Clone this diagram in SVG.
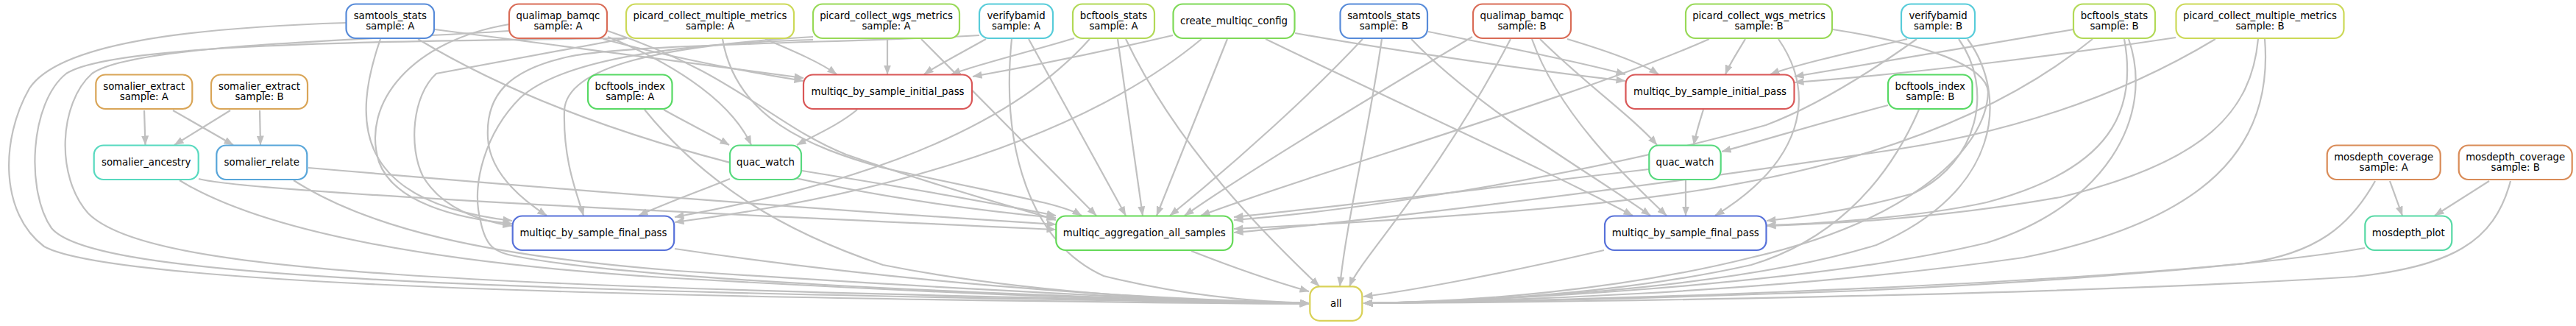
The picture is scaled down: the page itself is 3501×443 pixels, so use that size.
<svg xmlns="http://www.w3.org/2000/svg" width="3501" height="443" viewBox="0 0 3501 443">
<style>
.n rect{fill:#fff;stroke-width:2.2}
.n text{font-family:"DejaVu Sans",Verdana,sans-serif;font-size:13.3px;fill:#000;text-anchor:middle}
#edges path{fill:none;stroke:#c0c0c0;stroke-width:2.2;marker-end:url(#arr)}
</style>
<defs>
<marker id="arr" viewBox="0 0 13 10" refX="12.5" refY="5" markerWidth="13" markerHeight="10" markerUnits="userSpaceOnUse" orient="auto"><path d="M0,0L13,5L0,10z" fill="#c0c0c0"/></marker>
</defs>
<rect width="3501" height="443" fill="#fff"/>
<g id="edges">
<path d="M196,150 L197.5,197"/>
<path d="M235,150 L317,197"/>
<path d="M313,150 L237,197"/>
<path d="M353,150 L354,197"/>
<path d="M270,243 C340,262 1000,292 1435,312"/>
<path d="M419,228 C700,252 1100,284 1435,305"/>
<path d="M244,245 C350,310 560,355 900,377 C1300,400 1600,410 1779,412"/>
<path d="M399,245 C500,310 660,348 920,368 C1300,393 1600,408 1779,412"/>
<path d="M3248,246 L3265,293"/>
<path d="M3383,246 L3309,293"/>
<path d="M3228,246 C3195,305 3150,345 3050,358 C2700,392 2100,410 1853,412"/>
<path d="M3412,246 C3390,330 3330,362 3200,376 C2800,402 2100,411 1853,412"/>
<path d="M3214,337 C3100,357 2800,384 2500,396 C2200,407 2000,411 1853,412"/>
<path d="M591,40 C760,62 960,88 1092,106"/>
<path d="M820,53 C900,75 1000,95 1092,110"/>
<path d="M1040,53 C1080,70 1115,85 1137,101"/>
<path d="M1206,53 L1206,101"/>
<path d="M1340,53 C1310,70 1275,88 1256,101"/>
<path d="M1460,52 C1400,70 1320,90 1293,101"/>
<path d="M1594,48 C1500,70 1390,92 1322,104"/>
<path d="M1941,43 C2050,65 2150,85 2209,101"/>
<path d="M1760,45 C1900,70 2100,98 2209,110"/>
<path d="M2130,53 C2180,68 2230,85 2254,101"/>
<path d="M2372,53 C2362,70 2350,88 2345,101"/>
<path d="M2592,53 C2520,70 2440,88 2406,101"/>
<path d="M2818,40 C2700,60 2550,85 2439,104"/>
<path d="M2957,51 C2800,75 2600,100 2439,112"/>
<path d="M1165,149 C1140,170 1105,185 1083,197"/>
<path d="M902,149 C930,165 965,182 991,197"/>
<path d="M826,50 C900,80 990,130 1021,197"/>
<path d="M2315,149 C2310,165 2305,180 2302,197"/>
<path d="M2093,53 C2150,110 2220,160 2252,197"/>
<path d="M2566,143 C2480,165 2400,190 2340,206"/>
<path d="M517,53 C478,165 480,275 696,300"/>
<path d="M692,33 C560,55 490,140 515,220 C535,275 620,297 696,304"/>
<path d="M851,52 L593,100 C560,130 555,200 575,240 C600,282 650,300 696,307"/>
<path d="M1105,50 C900,62 770,90 767,150 C765,220 785,265 793,293"/>
<path d="M1331,48 C1150,58 850,60 773,77 C690,95 660,130 663,187 C665,230 700,265 743,293"/>
<path d="M992,243 C950,260 900,278 868,293"/>
<path d="M1481,53 C1350,200 1100,262 917,295"/>
<path d="M1633,53 C1450,205 1150,272 917,302"/>
<path d="M1720,53 C1900,140 2120,240 2219,293"/>
<path d="M1918,53 C2010,150 2170,240 2243,293"/>
<path d="M2082,53 C2120,160 2220,250 2265,293"/>
<path d="M2291,245 L2291,293"/>
<path d="M2417,53 C2470,130 2450,220 2331,293"/>
<path d="M2662,53 C2710,120 2690,220 2600,263 C2520,285 2450,295 2401,300"/>
<path d="M2887,53 C2905,150 2870,230 2700,275 C2600,297 2450,305 2401,306"/>
<path d="M3069,53 C3060,150 3000,220 2800,268 C2620,300 2460,305 2401,307"/>
<path d="M568,53 C720,145 1000,255 1435,296"/>
<path d="M826,42 C1000,100 1050,170 1150,210 C1300,262 1400,287 1435,299"/>
<path d="M982,53 C1000,160 1100,200 1200,228 C1350,262 1440,275 1470,293"/>
<path d="M1252,53 L1490,293"/>
<path d="M1398,53 L1530,293"/>
<path d="M1519,53 L1553,293"/>
<path d="M1668,53 L1572,293"/>
<path d="M1852,53 C1780,130 1680,220 1590,293"/>
<path d="M2001,50 C1900,110 1700,230 1610,293"/>
<path d="M2323,53 C2150,130 1800,230 1632,293"/>
<path d="M1090,232 C1250,258 1380,282 1435,293"/>
<path d="M2241,230 C2000,258 1800,283 1677,295"/>
<path d="M2605,53 C2560,85 2480,140 2400,170 C2150,240 1850,285 1677,299"/>
<path d="M2844,53 C2700,170 2500,230 2300,260 C2100,290 1800,305 1677,311"/>
<path d="M3011,53 C2900,120 2750,180 2550,207 C2200,260 1800,306 1677,316"/>
<path d="M470,31 C250,38 80,60 40,120 C0,190 0,290 60,335 C150,385 800,405 1779,413"/>
<path d="M852,52 C500,56 150,60 90,100 C40,140 35,260 70,310 C120,370 500,395 1779,412"/>
<path d="M691,42 C500,55 180,60 125,100 C80,140 75,240 120,290 C200,370 600,390 1779,412"/>
<path d="M1105,54 C900,60 760,85 707,133 C660,180 640,250 653,300 C660,335 672,343 700,348 C850,378 1300,400 1779,412"/>
<path d="M1375,53 C1360,200 1400,330 1500,375 C1600,400 1700,410 1779,412"/>
<path d="M1530,53 C1600,200 1720,320 1793,389"/>
<path d="M876,149 C950,240 1050,310 1200,360 C1400,400 1650,411 1779,412"/>
<path d="M917,338 C1200,380 1500,405 1779,412"/>
<path d="M1619,341 C1680,365 1740,385 1779,396"/>
<path d="M1878,53 C1860,180 1830,300 1821,389"/>
<path d="M2053,53 C1950,250 1850,350 1834,389"/>
<path d="M2180,340 C2050,370 1920,395 1853,403"/>
<path d="M2608,149 C2560,260 2480,330 2380,360 C2200,400 2000,410 1853,412"/>
<path d="M2674,53 C2730,130 2720,260 2550,333 C2350,395 2000,410 1853,412"/>
<path d="M2893,53 C2930,160 2860,280 2700,330 C2450,390 2000,410 1853,412"/>
<path d="M3078,53 C3090,200 3000,300 2750,350 C2400,400 2000,410 1853,412"/>
<path d="M2491,40 C2620,60 2700,90 2702,125 C2700,200 2600,300 2380,350 C2200,395 2000,410 1853,412"/>
</g>
<g id="samtools_stats_A" class="n"><rect x="470.5" y="5.5" width="119.5" height="46.5" rx="13" stroke="#578BD9"/><text x="530.25" y="26">samtools_stats</text><text x="530.25" y="40.4">sample: A</text></g>
<g id="qualimap_bamqc_A" class="n"><rect x="692" y="5.5" width="133" height="46.5" rx="13" stroke="#D96C57"/><text x="758.5" y="26">qualimap_bamqc</text><text x="758.5" y="40.4">sample: A</text></g>
<g id="picard_collect_multiple_metrics_A" class="n"><rect x="851" y="5.5" width="228" height="46.5" rx="13" stroke="#CCD957"/><text x="965" y="26">picard_collect_multiple_metrics</text><text x="965" y="40.4">sample: A</text></g>
<g id="picard_collect_wgs_metrics_A" class="n"><rect x="1105" y="5.5" width="199" height="46.5" rx="13" stroke="#98D957"/><text x="1204.5" y="26">picard_collect_wgs_metrics</text><text x="1204.5" y="40.4">sample: A</text></g>
<g id="verifybamid_A" class="n"><rect x="1331" y="5.5" width="100" height="46.5" rx="13" stroke="#57CCD9"/><text x="1381" y="26">verifybamid</text><text x="1381" y="40.4">sample: A</text></g>
<g id="bcftools_stats_A" class="n"><rect x="1458" y="5.5" width="111" height="46.5" rx="13" stroke="#B2D957"/><text x="1513.5" y="26">bcftools_stats</text><text x="1513.5" y="40.4">sample: A</text></g>
<g id="create_multiqc_config" class="n"><rect x="1594.5" y="5.5" width="165" height="46.5" rx="13" stroke="#7ED957"/><text x="1677" y="33.4">create_multiqc_config</text></g>
<g id="samtools_stats_B" class="n"><rect x="1821.5" y="5.5" width="118.5" height="46.5" rx="13" stroke="#578BD9"/><text x="1880.75" y="26">samtools_stats</text><text x="1880.75" y="40.4">sample: B</text></g>
<g id="qualimap_bamqc_B" class="n"><rect x="2002" y="5.5" width="133" height="46.5" rx="13" stroke="#D96C57"/><text x="2068.5" y="26">qualimap_bamqc</text><text x="2068.5" y="40.4">sample: B</text></g>
<g id="picard_collect_wgs_metrics_B" class="n"><rect x="2291" y="5.5" width="199" height="46.5" rx="13" stroke="#98D957"/><text x="2390.5" y="26">picard_collect_wgs_metrics</text><text x="2390.5" y="40.4">sample: B</text></g>
<g id="verifybamid_B" class="n"><rect x="2584" y="5.5" width="100" height="46.5" rx="13" stroke="#57CCD9"/><text x="2634" y="26">verifybamid</text><text x="2634" y="40.4">sample: B</text></g>
<g id="bcftools_stats_B" class="n"><rect x="2818" y="5.5" width="111" height="46.5" rx="13" stroke="#B2D957"/><text x="2873.5" y="26">bcftools_stats</text><text x="2873.5" y="40.4">sample: B</text></g>
<g id="picard_collect_multiple_metrics_B" class="n"><rect x="2957.5" y="5.5" width="228" height="46.5" rx="13" stroke="#CCD957"/><text x="3071.5" y="26">picard_collect_multiple_metrics</text><text x="3071.5" y="40.4">sample: B</text></g>
<g id="somalier_extract_A" class="n"><rect x="130.3" y="101.5" width="131" height="46.5" rx="13" stroke="#D9A557"/><text x="195.8" y="122">somalier_extract</text><text x="195.8" y="136.4">sample: A</text></g>
<g id="somalier_extract_B" class="n"><rect x="287" y="101.5" width="131" height="46.5" rx="13" stroke="#D9A557"/><text x="352.5" y="122">somalier_extract</text><text x="352.5" y="136.4">sample: B</text></g>
<g id="bcftools_index_A" class="n"><rect x="799" y="101.5" width="114.5" height="46.5" rx="13" stroke="#57D964"/><text x="856.25" y="122">bcftools_index</text><text x="856.25" y="136.4">sample: A</text></g>
<g id="multiqc_by_sample_initial_pass_A" class="n"><rect x="1092" y="101.5" width="229" height="46.5" rx="13" stroke="#D95757"/><text x="1206.5" y="129.4">multiqc_by_sample_initial_pass</text></g>
<g id="multiqc_by_sample_initial_pass_B" class="n"><rect x="2209.5" y="101.5" width="229" height="46.5" rx="13" stroke="#D95757"/><text x="2324" y="129.4">multiqc_by_sample_initial_pass</text></g>
<g id="bcftools_index_B" class="n"><rect x="2566" y="101.5" width="114.5" height="46.5" rx="13" stroke="#57D964"/><text x="2623.25" y="122">bcftools_index</text><text x="2623.25" y="136.4">sample: B</text></g>
<g id="somalier_ancestry" class="n"><rect x="127.7" y="197.5" width="142" height="46.5" rx="13" stroke="#57D9BF"/><text x="198.7" y="225.4">somalier_ancestry</text></g>
<g id="somalier_relate" class="n"><rect x="294.3" y="197.5" width="123" height="46.5" rx="13" stroke="#57A5D9"/><text x="355.8" y="225.4">somalier_relate</text></g>
<g id="quac_watch_A" class="n"><rect x="992" y="197.5" width="97" height="46.5" rx="13" stroke="#57D97E"/><text x="1040.5" y="225.4">quac_watch</text></g>
<g id="quac_watch_B" class="n"><rect x="2241.3" y="197.5" width="97.4" height="46.5" rx="13" stroke="#57D97E"/><text x="2290" y="225.4">quac_watch</text></g>
<g id="mosdepth_coverage_A" class="n"><rect x="3162.7" y="197.5" width="154" height="46.5" rx="13" stroke="#D98B57"/><text x="3239.7" y="218">mosdepth_coverage</text><text x="3239.7" y="232.4">sample: A</text></g>
<g id="mosdepth_coverage_B" class="n"><rect x="3341.7" y="197.5" width="154" height="46.5" rx="13" stroke="#D98B57"/><text x="3418.7" y="218">mosdepth_coverage</text><text x="3418.7" y="232.4">sample: B</text></g>
<g id="multiqc_by_sample_final_pass_A" class="n"><rect x="696.7" y="293.5" width="219.5" height="46.5" rx="13" stroke="#5771D9"/><text x="806.45" y="321.4">multiqc_by_sample_final_pass</text></g>
<g id="multiqc_aggregation_all_samples" class="n"><rect x="1435.3" y="293.5" width="240" height="46.5" rx="13" stroke="#64D957"/><text x="1555.3" y="321.4">multiqc_aggregation_all_samples</text></g>
<g id="multiqc_by_sample_final_pass_B" class="n"><rect x="2181" y="293.5" width="219.5" height="46.5" rx="13" stroke="#5771D9"/><text x="2290.75" y="321.4">multiqc_by_sample_final_pass</text></g>
<g id="mosdepth_plot" class="n"><rect x="3214.3" y="293.5" width="118" height="46.5" rx="13" stroke="#57D9A5"/><text x="3273.3" y="321.4">mosdepth_plot</text></g>
<g id="all" class="n"><rect x="1780.3" y="389.3" width="71" height="46.5" rx="13" stroke="#D9D157"/><text x="1815.8" y="417.2">all</text></g>
</svg>
